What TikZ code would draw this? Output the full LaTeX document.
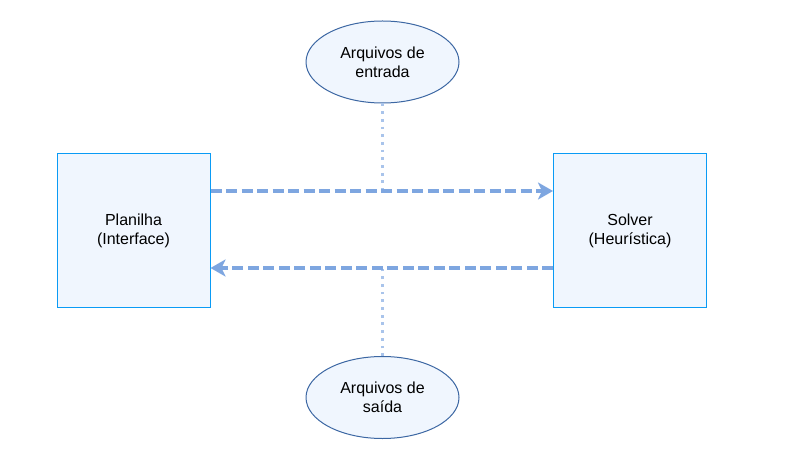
\documentclass[tikz,border=0pt]{standalone}
\usepackage{fontspec}
\setmainfont{Liberation Sans}
\usetikzlibrary{shapes.geometric,arrows.meta}
\definecolor{boxline}{HTML}{0A9BF5}
\definecolor{boxfill}{HTML}{F0F6FE}
\definecolor{ellline}{HTML}{3C67A3}
\definecolor{flowline}{HTML}{7EA6E0}
\definecolor{dotline}{HTML}{A9C4EB}
\tikzset{
  module/.style={draw=boxline, fill=boxfill, line width=1pt, minimum width=153pt, minimum height=153pt, align=center, font=\fontsize{16pt}{19pt}\selectfont},
  datafile/.style={ellipse, draw=ellline, fill=boxfill, line width=1pt, minimum width=153pt, minimum height=82pt, inner sep=0pt, align=center, font=\fontsize{16pt}{19pt}\selectfont},
  flow/.style={draw=flowline, line width=3.4pt, dash pattern=on 11pt off 4.5pt, -{Stealth[length=15pt,width=17pt,inset=4pt,sep=0pt]}},
  link/.style={draw=dotline, line width=2.8pt, dash pattern=on 2.8pt off 4.9pt}
}
\begin{document}
\begin{tikzpicture}[x=1pt,y=-1pt]
  \useasboundingbox (0,0) rectangle (794,454);
  % modules
  \node[module] (planilha) at (133.5,230.5) {Planilha\\(Interface)};
  \node[module] (solver) at (630,230.5) {Solver\\(Heurística)};
  % data files
  \node[datafile] (entrada) at (382.5,62) {Arquivos de\\entrada};
  \node[datafile] (saida) at (382.5,397.5) {Arquivos de\\saída};
  % flows
  \coordinate (ida) at ([yshift=39.5pt]planilha.east);
  \coordinate (volta) at ([yshift=-37.5pt]solver.west);
  \draw[link] (entrada.south) -- (entrada.south |- ida);
  \draw[link] (saida.north) -- (saida.north |- volta);
  \draw[flow] (ida) -- (ida -| solver.west);
  \draw[flow] (volta) -- (volta -| planilha.east);
\end{tikzpicture}
\end{document}
